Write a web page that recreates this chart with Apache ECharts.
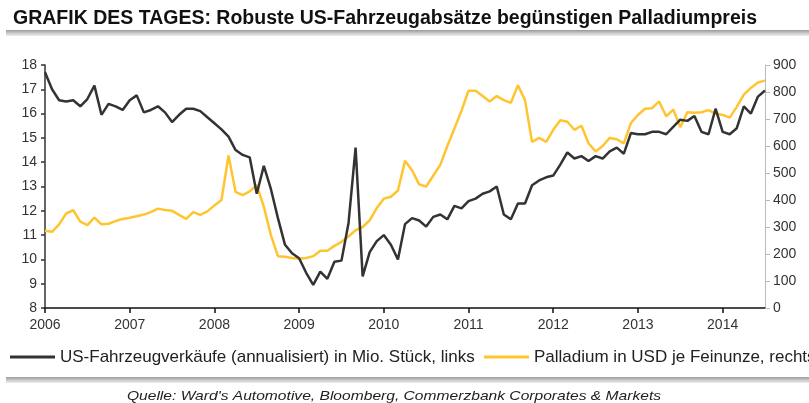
<!DOCTYPE html>
<html>
<head>
<meta charset="utf-8">
<script src="https://cdn.jsdelivr.net/npm/echarts@6/dist/echarts.min.js"></script>
<style>
html,body{margin:0;padding:0;background:#fff;}
#c{width:809px;height:403px;}
</style>
</head>
<body>
<div id="c"></div>
<script>
// Monthly data, Jan 2006 .. Jul 2014
var startYear = 2006;
var yearTicks = [2006, 2007, 2008, 2009, 2010, 2011, 2012, 2013, 2014];
var leftTicks = [8, 9, 10, 11, 12, 13, 14, 15, 16, 17, 18];
var rightTicks = [0, 100, 200, 300, 400, 500, 600, 700, 800, 900];

var sales = [
17.7, 17.0, 16.55, 16.5, 16.55, 16.3, 16.6, 17.15, 15.95, 16.4, 16.3, 16.15,
16.55, 16.75, 16.05, 16.15, 16.3, 16.05, 15.65, 15.95, 16.2, 16.2, 16.1, 15.85,
15.6, 15.35, 15.05, 14.5, 14.3, 14.2, 12.7, 13.85, 12.9, 11.7, 10.6, 10.25,
10.05, 9.45, 8.95, 9.5, 9.2, 9.9, 9.95, 11.5, 14.6, 9.3, 10.3, 10.75,
11.0, 10.6, 10.0, 11.45, 11.7, 11.6, 11.35, 11.75, 11.85, 11.65, 12.2, 12.1,
12.4, 12.5, 12.7, 12.8, 13.0, 11.85, 11.65, 12.3, 12.3, 13.05, 13.25, 13.38,
13.45, 13.9, 14.4, 14.15, 14.25, 14.05, 14.25, 14.15, 14.45, 14.6, 14.35, 15.2,
15.15, 15.15, 15.25, 15.25, 15.15, 15.45, 15.75, 15.7, 15.9, 15.25, 15.15, 16.2,
15.25, 15.15, 15.4, 16.3, 16.0, 16.7, 16.95
];

var palladium = [
286, 282, 310, 350, 362, 320, 307, 335, 310, 312, 322, 330,
334, 340, 346, 355, 368, 363, 360, 345, 330, 355, 345, 358,
380, 400, 565, 430, 418, 432, 455, 375, 270, 192, 190, 185,
182, 185, 192, 212, 212, 230, 245, 265, 288, 300, 325, 370,
405, 412, 435, 545, 510, 458, 450, 490, 530, 600, 665, 730,
805, 805, 785, 765, 785, 770, 760, 825, 770, 615, 630, 615,
660, 695, 690, 660, 675, 610, 580, 600, 630, 625, 610, 685,
715, 738, 740, 765, 710, 735, 670, 725, 723, 725, 733, 720,
715, 705, 745, 790, 815, 835, 842
];

var titleText = 'GRAFIK DES TAGES: Robuste US-Fahrzeugabsätze begünstigen Palladiumpreis';
var legendSales = 'US-Fahrzeugverkäufe (annualisiert) in Mio. Stück, links';
var legendPd = 'Palladium in USD je Feinunze, rechts';
var sourceText = "Quelle: Ward's Automotive, Bloomberg, Commerzbank Corporates & Markets";

function toXY(arr) {
  return arr.map(function (v, i) { return [startYear + i / 12, v]; });
}

var FONT = '"Liberation Sans", Arial, sans-serif';
var chart = echarts.init(document.getElementById('c'), null, {renderer: 'canvas'});

var grayBar = {
  type: 'linear', x: 0, y: 0, x2: 0, y2: 1,
  colorStops: [{offset: 0, color: '#9a9a9a'}, {offset: 0.5, color: '#c8c8c8'}, {offset: 1, color: '#ececec'}]
};

chart.setOption({
  animation: false,
  backgroundColor: '#fff',
  title: {
    text: titleText,
    left: 8, top: 4,
    textStyle: {fontFamily: FONT, fontWeight: 'bold', fontSize: 19.5, color: '#111'}
  },
  grid: {left: 45, right: 44, top: 65, bottom: 95},
  xAxis: {
    type: 'value',
    min: 2006, max: 2014.5, interval: 1,
    axisLine: {show: true, lineStyle: {color: '#111', width: 1.5}},
    axisTick: {show: true, length: 5, lineStyle: {color: '#111', width: 1.5},
      customValues: yearTicks},
    axisLabel: {customValues: yearTicks, formatter: function (v) { return String(v); },
      fontFamily: FONT, fontSize: 14, color: '#333', margin: 10},
    splitLine: {show: false}
  },
  yAxis: [{
    type: 'value', min: 8, max: 18, interval: 1, position: 'left',
    axisLine: {show: true, lineStyle: {color: '#333', width: 1.5}},
    axisTick: {show: true, length: 4, lineStyle: {color: '#333', width: 1.5}},
    axisLabel: {fontFamily: FONT, fontSize: 14, color: '#333', margin: 8},
    splitLine: {show: false}
  }, {
    type: 'value', min: 0, max: 900, interval: 100, position: 'right',
    axisLine: {show: true, lineStyle: {color: '#bbbbbb', width: 1}},
    axisTick: {show: true, length: 5, lineStyle: {color: '#bbbbbb', width: 1}},
    axisLabel: {fontFamily: FONT, fontSize: 14, color: '#333', margin: 8},
    splitLine: {show: false}
  }],
  series: [{
    name: legendSales, type: 'line', yAxisIndex: 0, data: toXY(sales),
    symbol: 'none', lineStyle: {color: '#333333', width: 2.5}, z: 3
  }, {
    name: legendPd, type: 'line', yAxisIndex: 1, data: toXY(palladium),
    symbol: 'none', lineStyle: {color: '#FFC530', width: 2.5}, z: 2
  }],
  graphic: [
    {type: 'rect', shape: {x: 6, y: 30, width: 803, height: 6}, style: {fill: grayBar}, silent: true},
    {type: 'rect', shape: {x: 6, y: 377, width: 803, height: 6}, style: {fill: grayBar}, silent: true},
    {type: 'line', shape: {x1: 10, y1: 357, x2: 55, y2: 357}, style: {stroke: '#333333', lineWidth: 3}},
    {type: 'text', x: 60, y: 357, style: {text: legendSales, fontFamily: FONT, fontSize: 17, fill: '#222', verticalAlign: 'middle'}},
    {type: 'line', shape: {x1: 484, y1: 357, x2: 529, y2: 357}, style: {stroke: '#FFC530', lineWidth: 3}},
    {type: 'text', x: 534, y: 357, style: {text: legendPd, fontFamily: FONT, fontSize: 17, fill: '#222', verticalAlign: 'middle'}},
    {type: 'text', x: 394, y: 396, scaleX: 1.2, style: {text: sourceText, fontFamily: FONT, fontSize: 13, fontStyle: 'italic', fill: '#222', align: 'center', verticalAlign: 'middle'}}
  ]
});
</script>
</body>
</html>
